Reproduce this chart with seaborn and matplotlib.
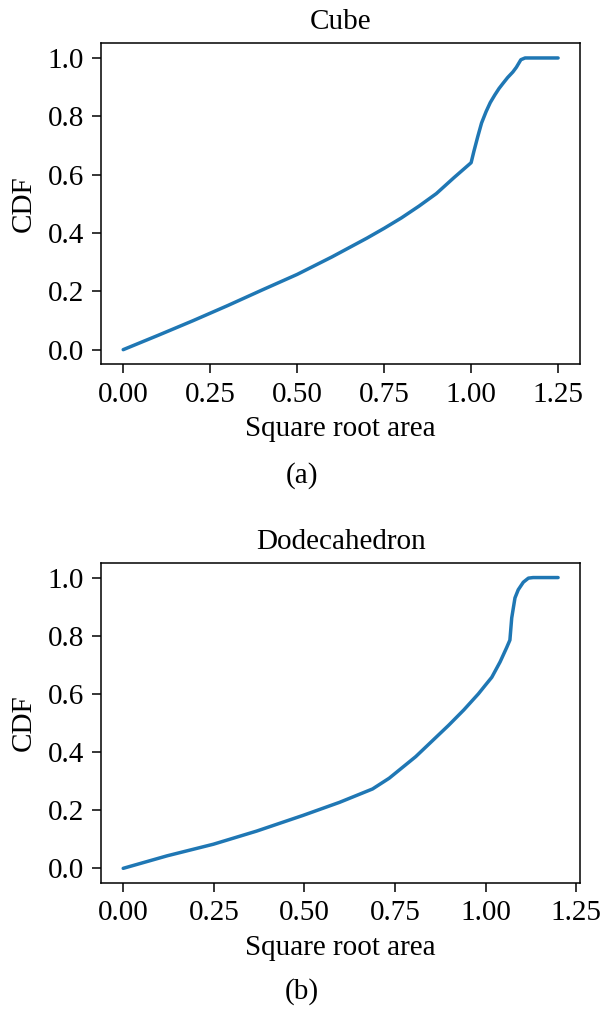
import matplotlib
matplotlib.use("Agg")
import matplotlib.pyplot as plt
import seaborn as sns

# values
cube_x = [0.0, 0.1, 0.2, 0.3, 0.4, 0.5, 0.6, 0.7, 0.75, 0.8, 0.85, 0.9, 0.95,
          1.0, 1.008, 1.019, 1.03, 1.043, 1.055, 1.068, 1.08, 1.091, 1.105,
          1.12, 1.13, 1.143, 1.155, 1.2, 1.25]
cube_cdf = [0.0, 0.049, 0.099, 0.151, 0.205, 0.258, 0.318, 0.382, 0.416, 0.452,
            0.492, 0.535, 0.589, 0.641, 0.68, 0.73, 0.777, 0.816, 0.847, 0.873,
            0.895, 0.912, 0.933, 0.952, 0.968, 0.994, 1.0, 1.0, 1.0]

dodec_x = [0.0, 0.121, 0.249, 0.368, 0.496, 0.597, 0.688, 0.734, 0.807, 0.85,
           0.898, 0.94, 0.98, 1.0, 1.017, 1.04, 1.058, 1.067, 1.072, 1.081,
           1.09, 1.104, 1.118, 1.131, 1.16, 1.2]
dodec_cdf = [0.0, 0.043, 0.083, 0.128, 0.182, 0.227, 0.273, 0.31, 0.384, 0.435,
             0.492, 0.545, 0.6, 0.631, 0.657, 0.71, 0.759, 0.785, 0.861, 0.93,
             0.958, 0.984, 0.998, 1.0, 1.0, 1.0]

panels = [
    ("Cube", "(a)", cube_x, cube_cdf),
    ("Dodecahedron", "(b)", dodec_x, dodec_cdf),
]

sns.set_style("ticks")
plt.rcParams["font.family"] = ["Liberation Serif", "DejaVu Serif"]
plt.rcParams["mathtext.fontset"] = "stix"
for key in ["text.color", "axes.labelcolor", "xtick.color", "ytick.color",
            "axes.edgecolor"]:
    plt.rcParams[key] = "black"
fs = 21

fig = plt.figure(figsize=(6.04, 10.09), dpi=100)
boxes = [[0.168, 0.639, 0.792, 0.318], [0.168, 0.125, 0.792, 0.317]]
tag_y = [0.529, 0.017]

for (title, tag, xs, ys), box, ty in zip(panels, boxes, tag_y):
    ax = fig.add_axes(box)
    sns.lineplot(x=xs, y=ys, ax=ax, color="#1f77b4", linewidth=2.5)
    ax.set_title(title, fontsize=fs, pad=10)
    ax.set_xlabel("Square root area", fontsize=fs, labelpad=6)
    ax.set_ylabel("CDF", fontsize=fs, labelpad=8)
    ax.set_xticks([0.0, 0.25, 0.5, 0.75, 1.0, 1.25])
    ax.set_xticklabels(["0.00", "0.25", "0.50", "0.75", "1.00", "1.25"])
    ax.set_yticks([0.0, 0.2, 0.4, 0.6, 0.8, 1.0])
    ax.set_yticklabels(["0.0", "0.2", "0.4", "0.6", "0.8", "1.0"])
    ax.tick_params(labelsize=fs, length=6.5, width=1.1, pad=6, color="black",
                   labelcolor="black")
    for s in ax.spines.values():
        s.set_visible(True)
        s.set_color("black")
        s.set_linewidth(1.1)
    fig.text(0.5, ty, tag, ha="center", va="center", fontsize=fs)

fig.savefig("out.png", dpi=100)
